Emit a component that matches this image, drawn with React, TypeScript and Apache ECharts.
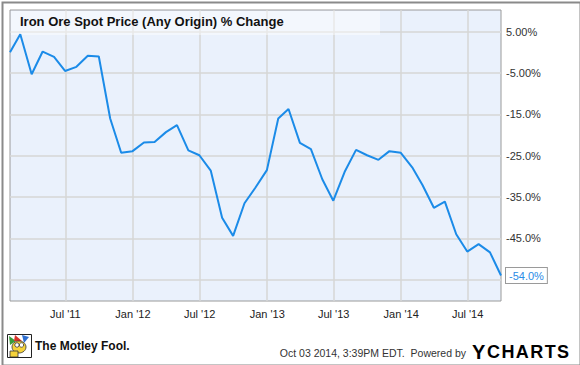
import React, { useEffect, useRef } from "react";
import * as echarts from "echarts";

// Monthly observations (month-end), % change since Jan 2011
const months: string[] = [
  "2011-01", "2011-02", "2011-03", "2011-04", "2011-05", "2011-06", "2011-07", "2011-08", "2011-09", "2011-10", "2011-11", "2011-12",
  "2012-01", "2012-02", "2012-03", "2012-04", "2012-05", "2012-06", "2012-07", "2012-08", "2012-09", "2012-10", "2012-11", "2012-12",
  "2013-01", "2013-02", "2013-03", "2013-04", "2013-05", "2013-06", "2013-07", "2013-08", "2013-09", "2013-10", "2013-11", "2013-12",
  "2014-01", "2014-02", "2014-03", "2014-04", "2014-05", "2014-06", "2014-07", "2014-08", "2014-09",
];
const pctChange: number[] = [
  0, 4.4, -5.3, 0.2, -1.1, -4.5, -3.5, -0.8, -1.0, -16.0, -24.3, -23.9,
  -21.8, -21.7, -19.3, -17.6, -23.7, -24.9, -28.6, -40.0, -44.4, -36.5, -32.7, -28.5,
  -16.0, -13.7, -21.9, -23.4, -30.7, -35.9, -28.9, -23.6, -24.9, -26.0, -23.9, -24.3,
  -27.8, -32.1, -37.6, -36.1, -44.0, -48.2, -46.4, -48.4, -54.0,
];
const xTickDates: string[] = ["2011-07-01", "2012-01-01", "2012-07-01", "2013-01-01", "2013-07-01", "2014-01-01", "2014-07-01"];
const xTickLabels: string[] = ["Jul '11", "Jan '12", "Jul '12", "Jan '13", "Jul '13", "Jan '14", "Jul '14"];
const yTickValues: number[] = [5, -5, -15, -25, -35, -45, -55];
const yTickLabels: string[] = ["5.00%", "-5.00%", "-15.0%", "-25.0%", "-35.0%", "-45.0%", ""];
const yRange: [number, number] = [-60.16, 10.25];

const title = "Iron Ore Spot Price (Any Origin) % Change";
const footerText = "Oct 03 2014, 3:39PM EDT.  Powered by";

const monthEnd = (m: string) => {
  const [y, mo] = m.split("-").map(Number);
  return Date.UTC(y, mo, 0);
};
const dayTs = (d: string) => {
  const [y, mo, da] = d.split("-").map(Number);
  return Date.UTC(y, mo - 1, da);
};

export default function App() {
  const ref = useRef<HTMLDivElement>(null);
  useEffect(() => {
    document.body.style.margin = "0";
    const chart = echarts.init(ref.current!, null, { renderer: "svg" });
    const data = months.map((m, i) => [monthEnd(m), pctChange[i]]);
    const xTicks = xTickDates.map(dayTs);
    const font = "'Liberation Sans', Arial, sans-serif";
    const letter = { fontSize: 18, fontWeight: "bold", fontFamily: font, color: "#1f2530", padding: [0, 0.7, 0, 0.7] };
    chart.setOption({
      animation: false,
      backgroundColor: "#ffffff",
      textStyle: { fontFamily: font },
      title: {
        text: title,
        left: 20,
        top: 15,
        padding: 0,
        z: 8,
        textStyle: { fontSize: 13, fontWeight: "bold", color: "#111", fontFamily: font },
      },
      grid: {
        left: 10,
        top: 10,
        right: 79,
        bottom: 64,
        show: true,
        backgroundColor: "#eaf1fc",
        borderColor: "#9a9a9a",
        borderWidth: 1,
      },
      xAxis: {
        type: "value",
        min: monthEnd(months[0]),
        max: monthEnd(months[months.length - 1]),
        axisLine: { show: false },
        axisTick: { show: false, customValues: xTicks },
        axisLabel: {
          customValues: xTicks,
          margin: 7,
          fontSize: 11,
          color: "#222",
          fontFamily: font,
          formatter: (v: number) => {
            const i = xTicks.indexOf(v);
            return i >= 0 ? xTickLabels[i] : "";
          },
        },
        splitLine: { show: true, lineStyle: { color: "#d6d6d6", width: 1.5 } },
      },
      yAxis: {
        type: "value",
        position: "right",
        min: yRange[0],
        max: yRange[1],
        axisLine: { show: false },
        axisTick: { show: false, customValues: yTickValues },
        axisLabel: {
          customValues: yTickValues,
          margin: 5,
          fontSize: 11,
          color: "#333",
          fontFamily: font,
          formatter: (v: number) => {
            const i = yTickValues.indexOf(v);
            return i >= 0 ? yTickLabels[i] : "";
          },
        },
        splitLine: { show: true, lineStyle: { color: "#d6d6d6", width: 1.5 } },
      },
      series: [
        {
          type: "line",
          data,
          showSymbol: false,
          symbol: "none",
          lineStyle: { color: "#1b8be8", width: 2 },
          endLabel: {
            show: true,
            formatter: (p: any) => p.value[1].toFixed(1) + "%",
            color: "#2a8be6",
            fontSize: 11,
            fontFamily: font,
            backgroundColor: "#ffffff",
            borderColor: "#9a9a9a",
            borderWidth: 1,
            padding: [2, 3, 2, 3],
            distance: 5,
          },
          z: 3,
        },
      ],
      graphic: [
        {
          type: "rect",
          left: 11,
          top: 11,
          z: 1,
          shape: { width: 369, height: 24 },
          style: { fill: "rgba(255,255,255,0.45)" },
        },
        {
          type: "rect",
          left: 0,
          top: 0,
          z: 10,
          shape: { x: 1, y: 1, width: 578, height: 363 },
          style: { fill: "none", stroke: "#8a8a8a", lineWidth: 2 },
        },
        {
          type: "group",
          left: 7,
          top: 334,
          children: [
            { type: "rect", shape: { x: 0.5, y: 0.5, width: 24, height: 23 }, style: { fill: "#ffffff", stroke: "#222", lineWidth: 1 } },
            { type: "polygon", shape: { points: [[2, 2], [9, 7], [3, 11]] }, style: { fill: "#3a9d3a" } },
            { type: "polygon", shape: { points: [[8, 1], [15, 7], [7, 7]] }, style: { fill: "#d9342b" } },
            { type: "polygon", shape: { points: [[15, 1], [22, 3], [17, 9]] }, style: { fill: "#2f6fd0" } },
            { type: "ellipse", shape: { cx: 12, cy: 13, rx: 7, ry: 6 }, style: { fill: "#f5d23a", stroke: "#333", lineWidth: 0.8 } },
            { type: "circle", shape: { cx: 10, cy: 11, r: 2.2 }, style: { fill: "#ffffff", stroke: "#333", lineWidth: 0.8 } },
            { type: "circle", shape: { cx: 14.5, cy: 11, r: 2.2 }, style: { fill: "#ffffff", stroke: "#333", lineWidth: 0.8 } },
            { type: "rect", shape: { x: 3, y: 17, width: 8, height: 6 }, style: { fill: "#f5d23a", stroke: "#333", lineWidth: 0.8 } },
          ],
        },
        {
          type: "text",
          left: 35,
          top: 340,
          style: { text: "The Motley Fool.", fontSize: 12, fontWeight: "bold", fontFamily: font, fill: "#111" },
        },
        {
          type: "text",
          x: 466,
          y: 353,
          style: { text: footerText, fontSize: 10.5, fontFamily: font, fill: "#333", align: "right", verticalAlign: "middle" },
        },
        {
          type: "text",
          x: 472,
          y: 352,
          style: {
            text: "{y|Y}{c|C}{c|H}{c|A}{c|R}{c|T}{c|S}",
            verticalAlign: "middle",
            rich: {
              y: { fontSize: 20, fontWeight: "bold", fontFamily: font, color: "#2a8fe8", padding: [0, 1, 0, 0] },
              c: letter,
            },
          },
        },
      ],
    });
    return () => chart.dispose();
  }, []);
  return <div ref={ref} style={{ position: "absolute", left: 0, top: 0, width: 580, height: 365 }} />;
}
